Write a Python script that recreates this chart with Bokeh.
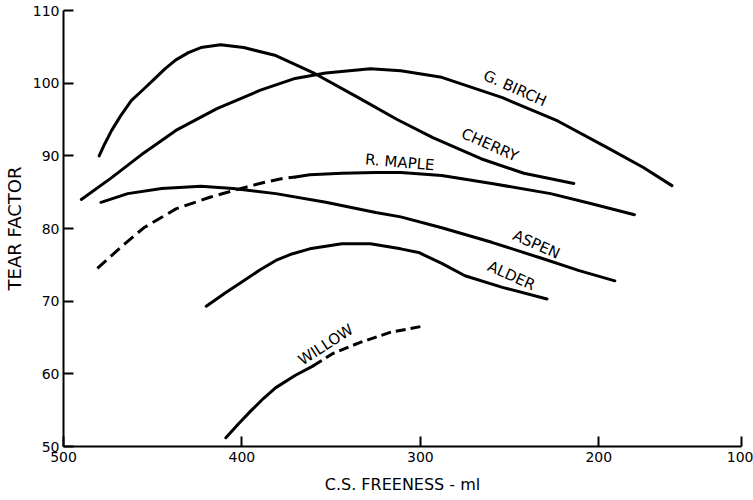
from bokeh.plotting import figure
from bokeh.models import Range1d, FixedTicker, ColumnDataSource
from bokeh.core.properties import value
from bokeh.embed import file_html
from bokeh.resources import INLINE
import math

# ---- data (C.S. freeness in ml, tear factor) ----
birch_x = [490, 473, 455, 437, 414, 390, 371, 353, 328, 311, 288, 254, 223, 195, 175, 159]
birch_y = [84.0, 87.0, 90.4, 93.5, 96.5, 99.0, 100.6, 101.4, 102.0, 101.7, 100.8, 98.0, 94.8, 91.1, 88.4, 85.9]

cherry_x = [480, 477, 473, 468, 462, 455, 449, 443, 437, 430, 423, 412, 399, 381, 359, 334, 313, 293, 266, 242, 214]
cherry_y = [90.0, 91.6, 93.5, 95.5, 97.6, 99.2, 100.6, 102.0, 103.2, 104.2, 104.9, 105.3, 104.9, 103.8, 101.3, 97.9, 95.0, 92.5, 89.6, 87.6, 86.2]

maple_dash_x = [481, 468, 455, 437, 418, 405, 390, 377, 370]
maple_dash_y = [74.5, 77.4, 80.1, 82.7, 84.3, 85.2, 86.2, 86.9, 87.1]
maple_x = [370, 362, 344, 325, 311, 288, 260, 227, 204, 180]
maple_y = [87.1, 87.4, 87.6, 87.7, 87.7, 87.3, 86.2, 84.8, 83.4, 81.9]

aspen_x = [479, 464, 445, 423, 405, 381, 353, 325, 311, 288, 260, 232, 211, 191]
aspen_y = [83.6, 84.8, 85.5, 85.8, 85.5, 84.8, 83.6, 82.2, 81.6, 80.1, 78.1, 75.9, 74.2, 72.8]

alder_x = [420, 409, 399, 390, 381, 372, 362, 344, 328, 311, 301, 288, 275, 254, 229]
alder_y = [69.3, 71.2, 72.8, 74.3, 75.6, 76.5, 77.2, 77.9, 77.9, 77.2, 76.7, 75.2, 73.5, 71.9, 70.3]

willow_x = [409, 402, 395, 388, 381, 370, 360]
willow_y = [51.2, 53.1, 54.9, 56.6, 58.1, 59.8, 61.1]
willow_dash_x = [360, 349, 334, 317, 300]
willow_dash_y = [61.1, 62.8, 64.3, 65.7, 66.5]

# curve labels
label_text = ["G. BIRCH", "CHERRY", "R. MAPLE", "ASPEN", "ALDER", "WILLOW"]
label_x = [247, 261, 311.5, 235, 249, 353]
label_y = [99.3, 91.5, 89.1, 77.8, 73.5, 64.0]
label_deg = [-24, -24, -5, -24, -24, 33]

x_ticks = [500, 400, 300, 200, 120]
x_tick_labels = ["500", "400", "300", "200", "100"]
y_ticks = [50, 60, 70, 80, 90, 100, 110]

FONT = "DejaVu Sans"

p = figure(width=753, height=500, x_range=Range1d(500, 120), y_range=Range1d(50, 110),
           output_backend="svg", toolbar_location=None,
           min_border_left=59, min_border_right=12, min_border_top=10, min_border_bottom=54)
p.outline_line_color = None
p.xgrid.visible = False
p.ygrid.visible = False
p.background_fill_color = "white"
p.border_fill_color = "white"

for ax in (p.xaxis[0], p.yaxis[0]):
    ax.axis_line_width = 2
    ax.axis_line_color = "black"
    ax.major_tick_line_width = 2
    ax.major_tick_line_color = "black"
    ax.major_tick_in = 10
    ax.major_tick_out = 0
    ax.minor_tick_line_color = None
    ax.major_label_text_font = FONT
    ax.major_label_text_font_size = "14px"
    ax.major_label_text_color = "black"
    ax.axis_label_text_font = FONT
    ax.axis_label_text_font_size = "16px"
    ax.axis_label_text_font_style = "normal"
    ax.axis_label_text_color = "black"

p.xaxis.ticker = FixedTicker(ticks=x_ticks)
p.xaxis.major_label_overrides = {t: s for t, s in zip(x_ticks, x_tick_labels)}
p.xaxis.major_label_standoff = 5
p.xaxis.axis_label = "C.S. FREENESS - ml"
p.xaxis.axis_label_standoff = 10

p.yaxis.ticker = FixedTicker(ticks=y_ticks)
p.yaxis.major_label_standoff = 4
p.yaxis.axis_label = "TEAR FACTOR"
p.yaxis.axis_label_standoff = 5
p.yaxis.axis_label_text_font_size = "18px"

solid = dict(line_color="black", line_width=3, line_cap="round", line_join="round")
p.line(birch_x, birch_y, **solid)
p.line(cherry_x, cherry_y, **solid)
p.line(maple_x, maple_y, **solid)
p.line(aspen_x, aspen_y, **solid)
p.line(alder_x, alder_y, **solid)
p.line(willow_x, willow_y, **solid)
p.line(maple_dash_x, maple_dash_y, line_color="black", line_width=3, line_dash="12 6")
p.line(willow_dash_x, willow_dash_y, line_color="black", line_width=3, line_dash="10 5")

src = ColumnDataSource(dict(x=label_x, y=label_y, text=label_text,
                            angle=[math.radians(a) for a in label_deg]))
p.text(x="x", y="y", text="text", angle="angle", source=src,
       text_font=value(FONT), text_font_size="15px", text_color="black",
       text_align="center", text_baseline="middle")

open("out.html", "w").write(file_html(p, INLINE))
